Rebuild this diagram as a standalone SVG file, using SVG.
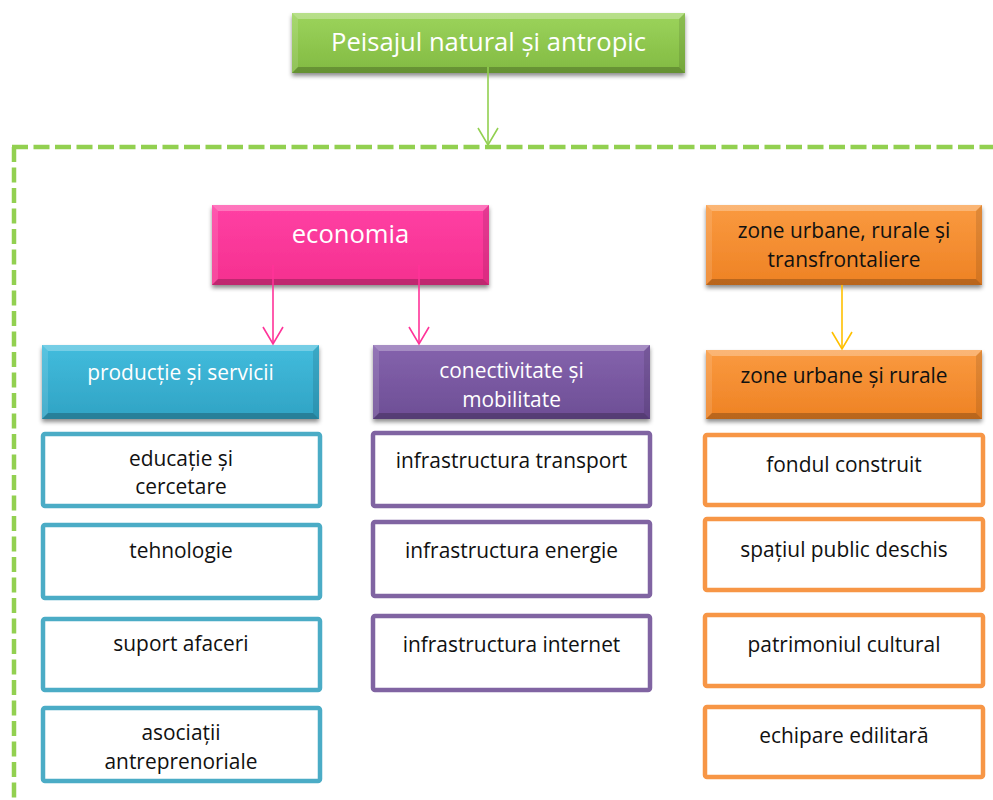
<svg xmlns="http://www.w3.org/2000/svg" width="993" height="800" viewBox="0 0 993 800">
<style>
text{font-family:"Open Sans","Noto Sans","Liberation Sans",sans-serif;text-anchor:middle}
.hw{fill:#fff;font-size:25.6px}
.sw{fill:#fff;font-size:20.9px}
.sb{fill:#111;font-size:20.9px}
.bt{fill:#fff;fill-opacity:.28}
.bl{fill:#fff;fill-opacity:.12}
.br{fill:#000;fill-opacity:.1}
.bb{fill:#000;fill-opacity:.22}
.wc{fill:#fff;stroke:#4BACC6;stroke-width:4.5}
.wp{fill:#fff;stroke:#8064A2;stroke-width:4.5}
.wo{fill:#fff;stroke:#F79646;stroke-width:4.5}
.ln{fill:none;stroke-width:1.6}
</style>
<defs>
<filter id="sh" x="-10%" y="-20%" width="120%" height="150%">
<feDropShadow dx="0" dy="3" stdDeviation="2.2" flood-color="#000" flood-opacity="0.45"/>
</filter>
<linearGradient id="gG" x1="0" y1="0" x2="0" y2="1"><stop offset="0" stop-color="#9CD45C"/><stop offset="1" stop-color="#82BA42"/></linearGradient>
<linearGradient id="gP" x1="0" y1="0" x2="0" y2="1"><stop offset="0" stop-color="#FF40A4"/><stop offset="1" stop-color="#F5308F"/></linearGradient>
<linearGradient id="gC" x1="0" y1="0" x2="0" y2="1"><stop offset="0" stop-color="#42BCDD"/><stop offset="1" stop-color="#30A3C4"/></linearGradient>
<linearGradient id="gV" x1="0" y1="0" x2="0" y2="1"><stop offset="0" stop-color="#8563AD"/><stop offset="1" stop-color="#6D4E95"/></linearGradient>
<linearGradient id="gO" x1="0" y1="0" x2="0" y2="1"><stop offset="0" stop-color="#FA9A40"/><stop offset="1" stop-color="#EE8224"/></linearGradient>
<marker id="mG" markerUnits="userSpaceOnUse" viewBox="-20 -12 22 24" refX="0" refY="0" markerWidth="22" markerHeight="24" orient="auto"><path d="M-17,-10 L0,0 L-17,10" fill="none" stroke="#92D050" stroke-width="1.6"/></marker>
<marker id="mP" markerUnits="userSpaceOnUse" viewBox="-20 -12 22 24" refX="0" refY="0" markerWidth="22" markerHeight="24" orient="auto"><path d="M-17,-10 L0,0 L-17,10" fill="none" stroke="#FF3399" stroke-width="1.6"/></marker>
<marker id="mO" markerUnits="userSpaceOnUse" viewBox="-20 -12 22 24" refX="0" refY="0" markerWidth="22" markerHeight="24" orient="auto"><path d="M-17,-10 L0,0 L-17,10" fill="none" stroke="#FFC000" stroke-width="1.6"/></marker>
</defs>

<g id="frame">
<path d="M12,147 H993" fill="none" stroke="#92D050" stroke-width="4.5" stroke-dasharray="16 5.5"/>
<path d="M14,147 V800" fill="none" stroke="#92D050" stroke-width="4.5" stroke-dasharray="15 5.5"/>
</g>

<g id="n-top">
<rect x="292" y="13" width="393" height="60" fill="url(#gG)" filter="url(#sh)"/>
<polygon class="bt" points="292,13 685,13 679,19 298,19"/>
<polygon class="bl" points="292,13 298,19 298,67 292,73"/>
<polygon class="br" points="685,13 685,73 679,67 679,19"/>
<polygon class="bb" points="292,73 298,67 679,67 685,73"/>
<text class="hw" x="488.5" y="51">Peisajul natural și antropic</text>
</g>

<g id="n-econ">
<rect x="212" y="205" width="277" height="80" fill="url(#gP)" filter="url(#sh)"/>
<polygon class="bt" points="212,205 489,205 483,211 218,211"/>
<polygon class="bl" points="212,205 218,211 218,279 212,285"/>
<polygon class="br" points="489,205 489,285 483,279 483,211"/>
<polygon class="bb" points="212,285 218,279 483,279 489,285"/>
<text class="hw" x="350.5" y="243">economia</text>
</g>

<g id="n-zone">
<rect x="706" y="205" width="276" height="80" fill="url(#gO)" filter="url(#sh)"/>
<polygon class="bt" points="706,205 982,205 976,211 712,211"/>
<polygon class="bl" points="706,205 712,211 712,279 706,285"/>
<polygon class="br" points="982,205 982,285 976,279 976,211"/>
<polygon class="bb" points="706,285 712,279 976,279 982,285"/>
<text class="sb" x="844" y="238">zone urbane, rurale și</text>
<text class="sb" x="844" y="267">transfrontaliere</text>
</g>

<g id="n-prod">
<rect x="42" y="345" width="277" height="74" fill="url(#gC)" filter="url(#sh)"/>
<polygon class="bt" points="42,345 319,345 313,351 48,351"/>
<polygon class="bl" points="42,345 48,351 48,413 42,419"/>
<polygon class="br" points="319,345 319,419 313,413 313,351"/>
<polygon class="bb" points="42,419 48,413 313,413 319,419"/>
<text class="sw" x="180.5" y="380">producție și servicii</text>
</g>

<g id="n-conn">
<rect x="373" y="345" width="277" height="74" fill="url(#gV)" filter="url(#sh)"/>
<polygon class="bt" points="373,345 650,345 644,351 379,351"/>
<polygon class="bl" points="373,345 379,351 379,413 373,419"/>
<polygon class="br" points="650,345 650,419 644,413 644,351"/>
<polygon class="bb" points="373,419 379,413 644,413 650,419"/>
<text class="sw" x="511.5" y="378">conectivitate și</text>
<text class="sw" x="511.5" y="407">mobilitate</text>
</g>

<g id="n-zur">
<rect x="706" y="350" width="276" height="69" fill="url(#gO)" filter="url(#sh)"/>
<polygon class="bt" points="706,350 982,350 976,356 712,356"/>
<polygon class="bl" points="706,350 712,356 712,413 706,419"/>
<polygon class="br" points="982,350 982,419 976,413 976,356"/>
<polygon class="bb" points="706,419 712,413 976,413 982,419"/>
<text class="sb" x="844" y="383">zone urbane și rurale</text>
</g>

<g id="n-edu"><rect class="wc" x="43" y="434" width="277" height="72" rx="2"/>
<text class="sb" x="181" y="466">educație și</text><text class="sb" x="181" y="494">cercetare</text></g>
<g id="n-teh"><rect class="wc" x="43" y="525" width="277" height="73" rx="2"/>
<text class="sb" x="181" y="558">tehnologie</text></g>
<g id="n-sup"><rect class="wc" x="43" y="619" width="277" height="71" rx="2"/>
<text class="sb" x="181" y="651">suport afaceri</text></g>
<g id="n-aso"><rect class="wc" x="43" y="708" width="277" height="73" rx="2"/>
<text class="sb" x="181" y="740">asociații</text><text class="sb" x="181" y="769">antreprenoriale</text></g>

<g id="n-itr"><rect class="wp" x="373" y="433" width="277" height="73" rx="2"/>
<text class="sb" x="511.5" y="468">infrastructura transport</text></g>
<g id="n-ien"><rect class="wp" x="373" y="522" width="277" height="74" rx="2"/>
<text class="sb" x="511.5" y="558">infrastructura energie</text></g>
<g id="n-iin"><rect class="wp" x="373" y="616" width="277" height="74" rx="2"/>
<text class="sb" x="511.5" y="652">infrastructura internet</text></g>

<g id="n-fon"><rect class="wo" x="705" y="435" width="278" height="70" rx="2"/>
<text class="sb" x="844" y="472">fondul construit</text></g>
<g id="n-spa"><rect class="wo" x="705" y="519" width="278" height="71" rx="2"/>
<text class="sb" x="844" y="557">spațiul public deschis</text></g>
<g id="n-pat"><rect class="wo" x="705" y="615" width="278" height="71" rx="2"/>
<text class="sb" x="844" y="652">patrimoniul cultural</text></g>
<g id="n-ech"><rect class="wo" x="705" y="707" width="278" height="70" rx="2"/>
<text class="sb" x="844" y="743">echipare edilitară</text></g>

<g id="connectors">
<path class="ln" d="M488,67 V145" stroke="#92D050" marker-end="url(#mG)"/>
<path class="ln" d="M273,265 V344" stroke="#FF3399" marker-end="url(#mP)"/>
<path class="ln" d="M419,265 V344" stroke="#FF3399" marker-end="url(#mP)"/>
<path class="ln" d="M842,285 V349" stroke="#FFC000" marker-end="url(#mO)"/>
</g>
</svg>
